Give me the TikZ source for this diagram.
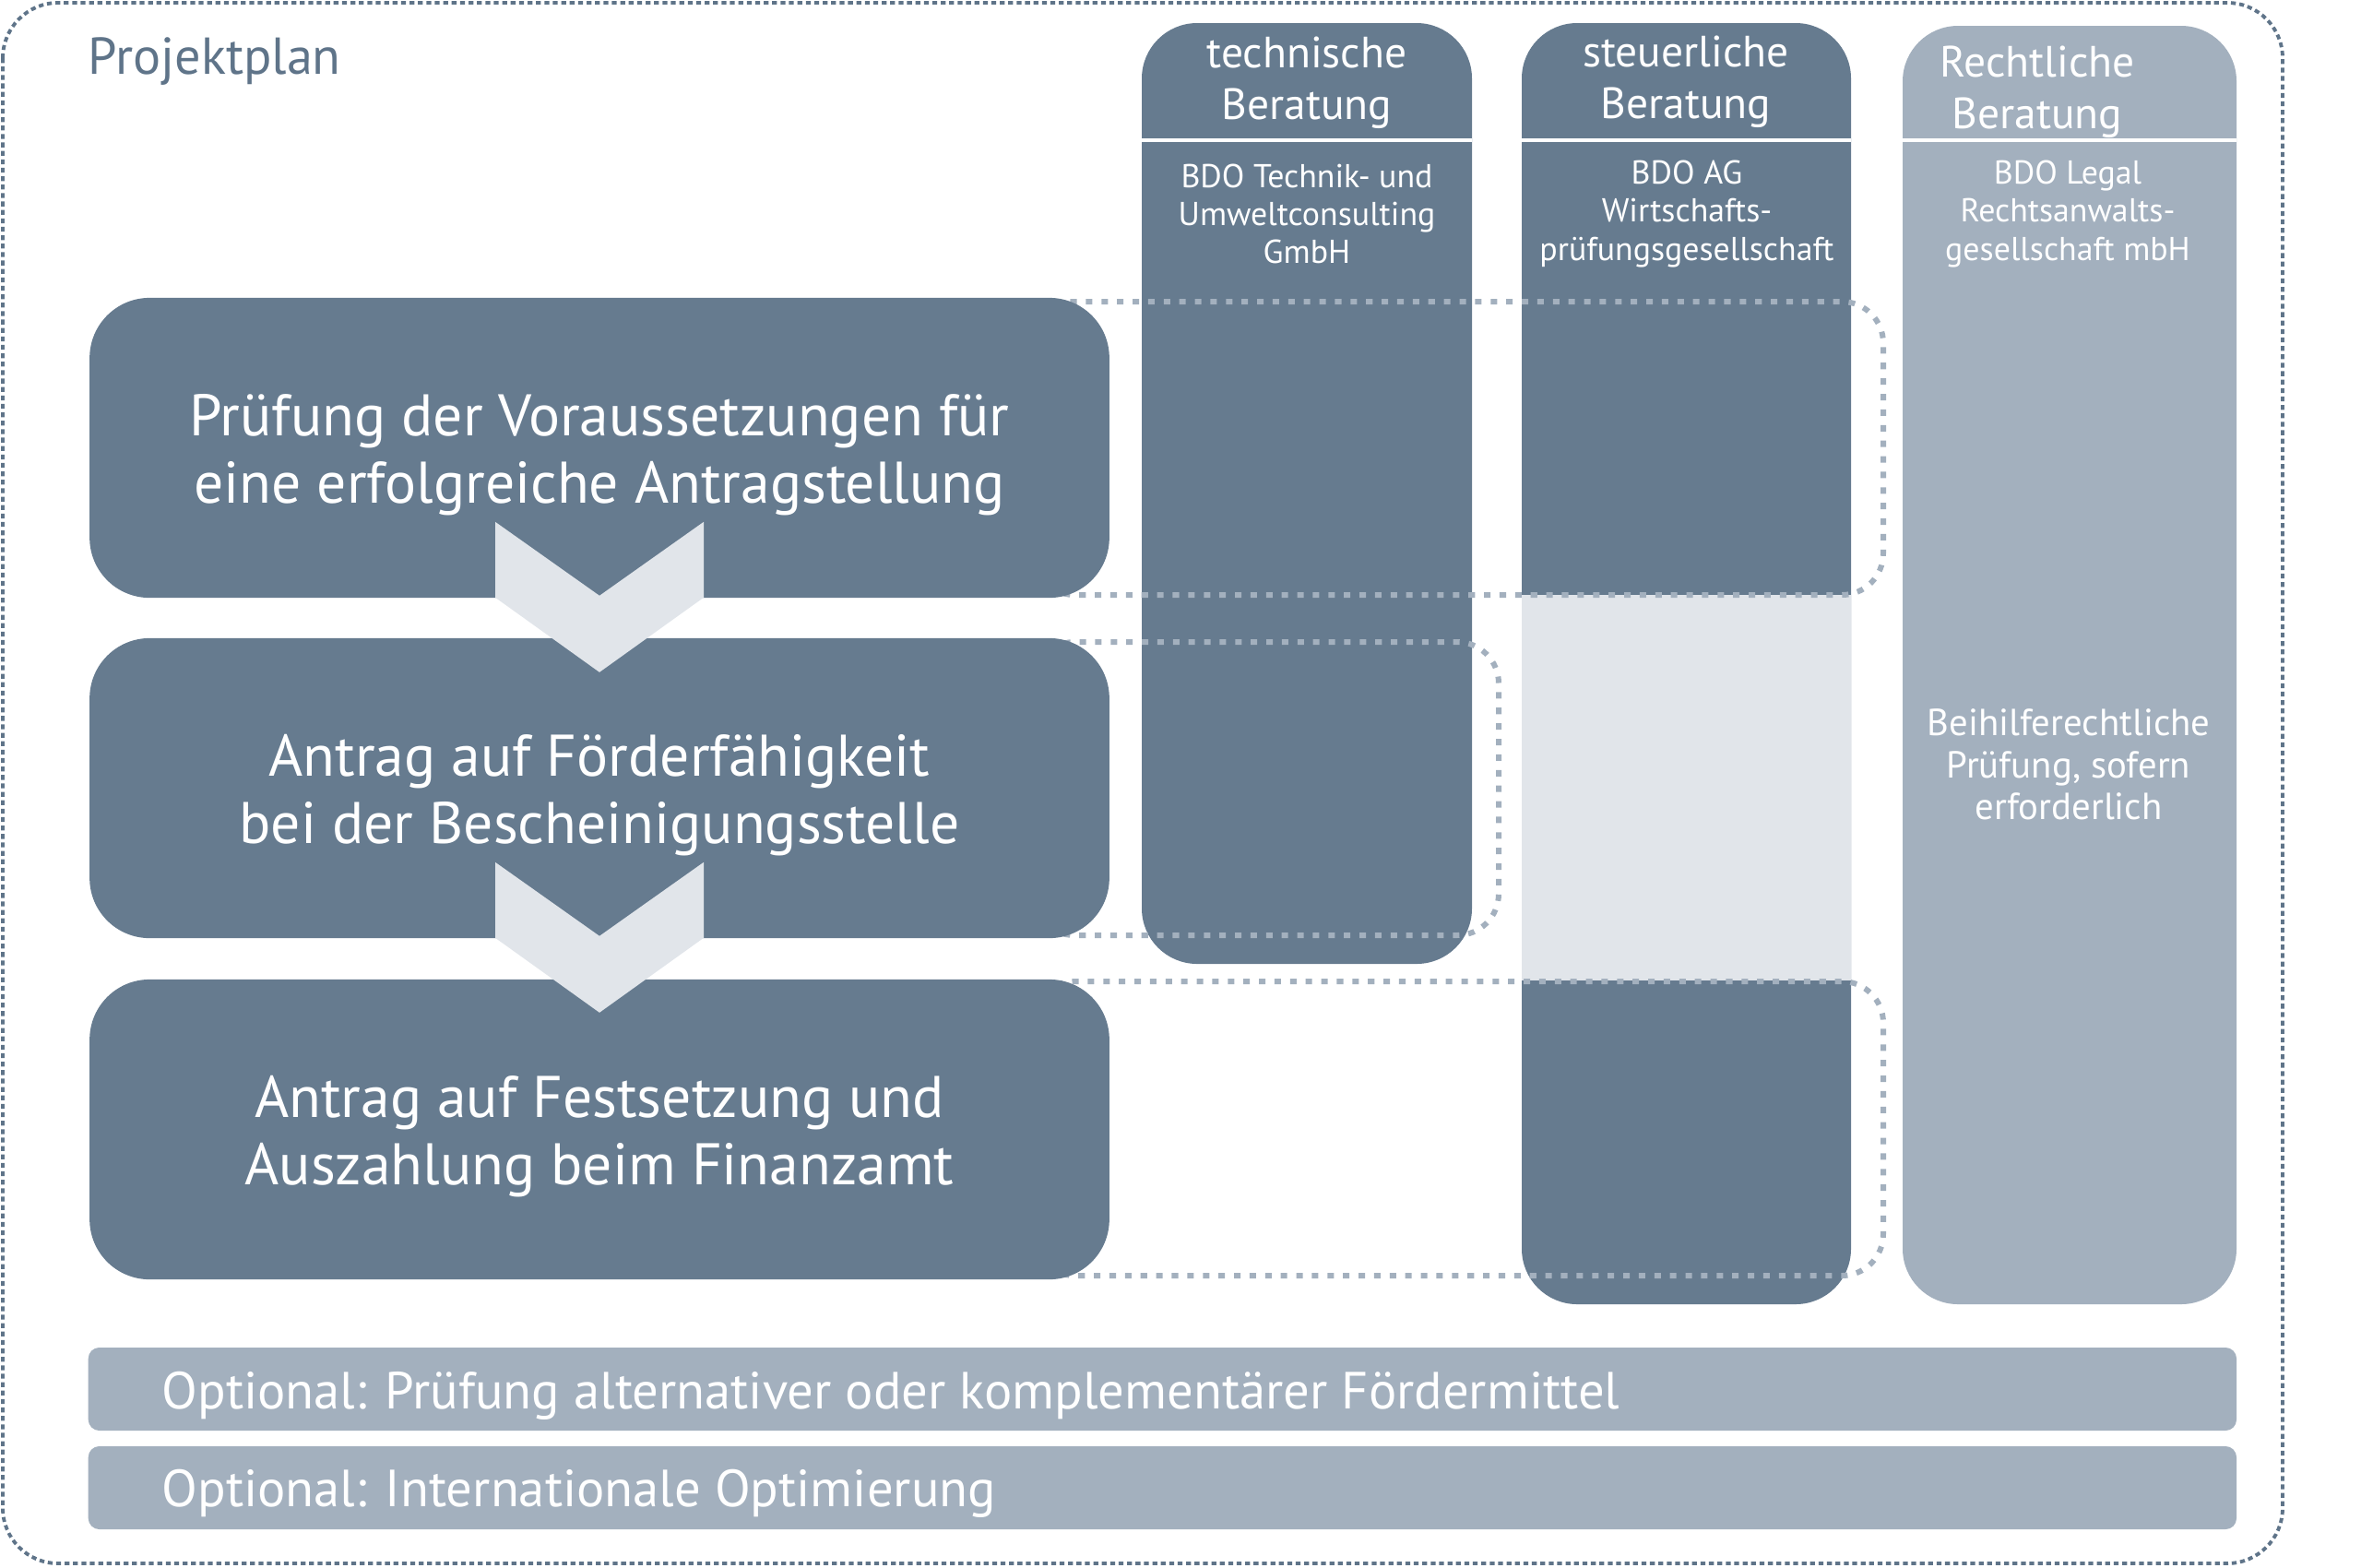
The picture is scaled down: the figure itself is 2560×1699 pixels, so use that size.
\documentclass[tikz,border=0pt]{standalone}
\usepackage{fontspec}
\setmainfont{PT Sans}
\usepackage{tikz}
\usetikzlibrary{positioning,calc}

\definecolor{bdodark}{HTML}{667B8F}
\definecolor{bdolight}{HTML}{A3B0BE}
\definecolor{bdopale}{HTML}{E1E5EA}
\definecolor{bdoframe}{HTML}{5F7489}

\begin{document}
\begin{tikzpicture}[
x=0.01cm, y=-0.01cm,
process/.style={rectangle, rounded corners=0.65cm, fill=bdodark, minimum width=11.05cm, minimum height=3.25cm},
proctext/.style={text=white, align=center, yshift=-0.08cm, font=\fontsize{18.1}{20.8}\selectfont},
optional/.style={rectangle, rounded corners=0.12cm, fill=bdolight, minimum width=23.28cm, minimum height=0.9cm, anchor=west},
opttext/.style={text=white, inner sep=0, anchor=base west, font=\fontsize{16.1}{18}\selectfont},
head/.style={text=white, align=center, font=\fontsize{13.5}{15.9}\selectfont},
firm/.style={text=white, align=center, font=\fontsize{10.2}{11.7}\selectfont},
phase/.style={draw=bdolight, line width=1.7pt, dash pattern=on 2pt off 2.8pt, rounded corners=0.45cm},
chevron/.style={fill=bdopale}
]
	\useasboundingbox (0,0) rectangle (2560,1699);
	
	% frame and title
	\draw [bdoframe, line width=1.1pt, dash pattern=on 1.5pt off 1.1pt, rounded corners=0.6cm] (3,3) rectangle (2475,1695);
	\node [anchor=base west, inner sep=0, text=bdoframe, font=\fontsize{16}{19}\selectfont] at (95,80) (titel) {Projektplan};
	
	% columns
	\fill [bdodark, rounded corners=0.6cm] (1238,25) rectangle (1596,1045);
	\fill [bdodark, rounded corners=0.6cm] (1650,25) rectangle (2007,1414);
	\fill [bdopale] (1650,645) rectangle (2007,1063);
	\fill [bdolight, rounded corners=0.6cm] (2063,28) rectangle (2425,1414);
	\draw [white, line width=1.1pt] (1238,152) -- (1596,152) (1650,152) -- (2007,152) (2063,152) -- (2425,152);
	
	\node [head] at (1417,90) (technik) {technische\\Beratung};
	\node [head] at (1828,89) (steuer) {steuerliche\\Beratung};
	\node [head] at (2209,100) (recht) {Rechtliche\\Beratung};
	
	\node [firm] at (1417,232) (bdotu) {BDO Technik- und\\Umweltconsulting\\GmbH};
	\node [firm] at (1829,232) (bdoag) {BDO AG\\Wirtschafts-\\prüfungsgesellschaft};
	\node [firm] at (2242,232) (bdolegal) {BDO Legal\\Rechtsanwalts-\\gesellschaft mbH};
	\node [firm, font=\fontsize{11.6}{12.9}\selectfont] at (2243,829) (beihilfe) {Beihilferechtliche\\Prüfung, sofern\\erforderlich};
	
	% phases
	\draw [phase] (1120,327) rectangle (2042,645);
	\draw [phase] (1120,696) rectangle (1625,1014);
	\draw [phase] (1120,1064) rectangle (2042,1383);
	
	\node [process] at (650,485.5) (pruefung) {};
	\node [process] at (650,854.5) (foerder) {};
	\node [process] at (650,1224.5) (festsetzung) {};
	\node [proctext] at (pruefung) (pruefungtext) {Prüfung der Voraussetzungen für\\eine erfolgreiche Antragstellung};
	\node [proctext] at (foerder) (foerdertext) {Antrag auf Förderfähigkeit\\bei der Bescheinigungsstelle};
	\node [proctext] at (festsetzung) (festsetzungtext) {Antrag auf Festsetzung und\\Auszahlung beim Finanzamt};
	
	\foreach \from in {pruefung, foerder}
		\fill [chevron] ($(\from.south)+(-113,-83)$) -- ++(113,80) -- ++(113,-80) -- ++(0,82) -- ++(-113,81) -- ++(-113,-81) -- cycle;
	
	% options
	\node [optional] at (95,1506) (opt1) {};
	\node [optional] at (95,1613) (opt2) {};
	\node [opttext] at ($(opt1.west)+(80,21)$) (opt1text) {Optional: Prüfung alternativer oder komplementärer Fördermittel};
	\node [opttext] at ($(opt2.west)+(80,20)$) (opt2text) {Optional: Internationale Optimierung};
	
\end{tikzpicture}
\end{document}
